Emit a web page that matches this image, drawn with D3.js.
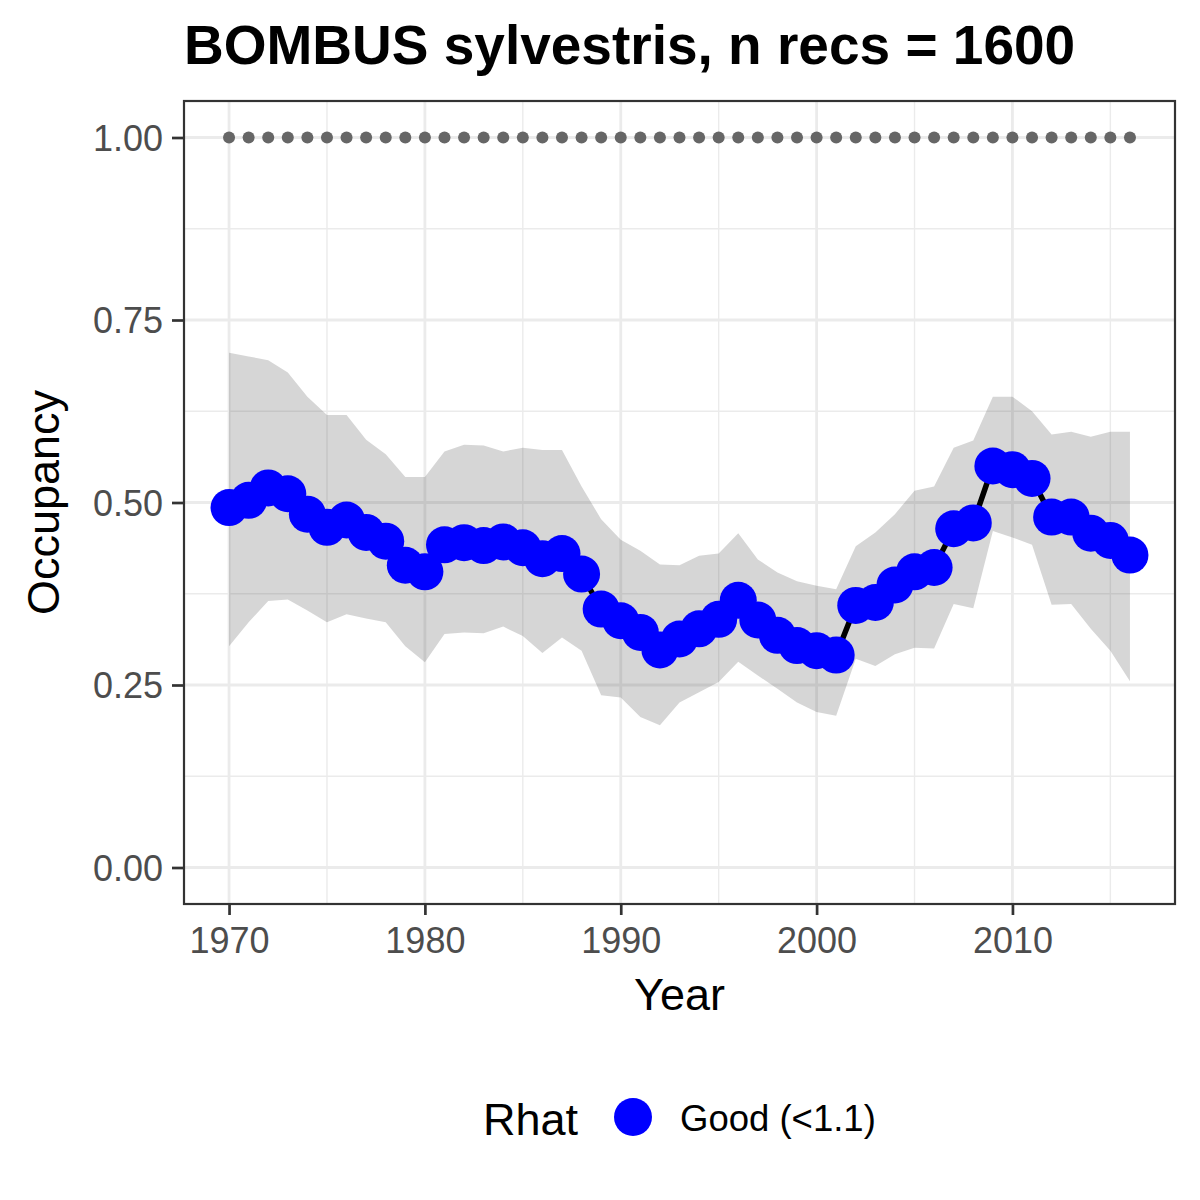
<!DOCTYPE html>
<html>
<head>
<meta charset="utf-8">
<script src="https://cdn.jsdelivr.net/npm/d3@7"></script>
<style>
  html, body { margin: 0; padding: 0; background: #fff; }
  text { font-family: "Liberation Sans", Arial, sans-serif; }
</style>
</head>
<body>
<script>
// occupancy estimates per year
var years = [1970, 1971, 1972, 1973, 1974, 1975, 1976, 1977, 1978, 1979,
             1980, 1981, 1982, 1983, 1984, 1985, 1986, 1987, 1988, 1989,
             1990, 1991, 1992, 1993, 1994, 1995, 1996, 1997, 1998, 1999,
             2000, 2001, 2002, 2003, 2004, 2005, 2006, 2007, 2008, 2009,
             2010, 2011, 2012, 2013, 2014, 2015, 2016];

var occupancy = [0.493, 0.503, 0.520, 0.512, 0.484, 0.466, 0.476, 0.459, 0.447, 0.414,
                 0.405, 0.442, 0.445, 0.441, 0.446, 0.438, 0.423, 0.430, 0.402, 0.354,
                 0.338, 0.322, 0.298, 0.313, 0.327, 0.340, 0.366, 0.339, 0.318, 0.304,
                 0.297, 0.291, 0.359, 0.363, 0.387, 0.405, 0.411, 0.464, 0.472, 0.550,
                 0.545, 0.533, 0.480, 0.480, 0.458, 0.448, 0.428];

var upper95 = [0.705, 0.700, 0.695, 0.678, 0.645, 0.620, 0.620, 0.586, 0.566, 0.535,
               0.535, 0.570, 0.579, 0.578, 0.570, 0.575, 0.572, 0.572, 0.522, 0.477,
               0.449, 0.434, 0.415, 0.414, 0.427, 0.430, 0.458, 0.422, 0.404, 0.392,
               0.386, 0.381, 0.440, 0.459, 0.484, 0.516, 0.522, 0.575, 0.585, 0.645,
               0.645, 0.625, 0.593, 0.597, 0.590, 0.597, 0.597];

var lower95 = [0.303, 0.336, 0.365, 0.367, 0.352, 0.336, 0.347, 0.341, 0.336, 0.303,
               0.281, 0.320, 0.322, 0.321, 0.330, 0.317, 0.294, 0.315, 0.297, 0.236,
               0.233, 0.206, 0.195, 0.226, 0.240, 0.254, 0.282, 0.263, 0.245, 0.226,
               0.213, 0.208, 0.286, 0.276, 0.292, 0.301, 0.300, 0.361, 0.355, 0.461,
               0.452, 0.442, 0.360, 0.361, 0.327, 0.297, 0.255];

// the grey dotted row at the top
var ceilingValue = 1.0;

var xTicks = [1970, 1980, 1990, 2000, 2010];
var xMinor = [1975, 1985, 1995, 2005, 2015];
var yTicks = [0, 0.25, 0.5, 0.75, 1];
var yMinor = [0.125, 0.375, 0.625, 0.875];

var titleText = "BOMBUS sylvestris, n recs = 1600";
var legendTitle = "Rhat";
var legendLabel = "Good (<1.1)";

var rows = years.map((y, i) => ({year: y, mean: occupancy[i], lo: lower95[i], hi: upper95[i]}));

var panel = {left: 184, right: 1175, top: 101, bottom: 904};

// ggplot style 5% expansion
var xPad = (d3.max(years) - d3.min(years)) * 0.05;
var x = d3.scaleLinear()
    .domain([d3.min(years) - xPad, d3.max(years) + xPad])
    .range([panel.left, panel.right]);
var y = d3.scaleLinear()
    .domain([-0.05, 1.05])
    .range([panel.bottom, panel.top]);

var svg = d3.select("body")
    .append("svg")
    .attr("width", 1200)
    .attr("height", 1200);

svg.append("rect")
    .attr("width", 1200).attr("height", 1200)
    .attr("fill", "#fff");

// grid
var grid = svg.append("g");
grid.selectAll("line.xminor").data(xMinor).enter()
    .append("line")
    .attr("x1", d => x(d)).attr("x2", d => x(d))
    .attr("y1", panel.top).attr("y2", panel.bottom)
    .attr("stroke", "#ebebeb").attr("stroke-width", 1.4);
grid.selectAll("line.yminor").data(yMinor).enter()
    .append("line")
    .attr("y1", d => y(d)).attr("y2", d => y(d))
    .attr("x1", panel.left).attr("x2", panel.right)
    .attr("stroke", "#ebebeb").attr("stroke-width", 1.4);
grid.selectAll("line.xmajor").data(xTicks).enter()
    .append("line")
    .attr("x1", d => x(d)).attr("x2", d => x(d))
    .attr("y1", panel.top).attr("y2", panel.bottom)
    .attr("stroke", "#ebebeb").attr("stroke-width", 2.8);
grid.selectAll("line.ymajor").data(yTicks).enter()
    .append("line")
    .attr("y1", d => y(d)).attr("y2", d => y(d))
    .attr("x1", panel.left).attr("x2", panel.right)
    .attr("stroke", "#ebebeb").attr("stroke-width", 2.8);

// credible interval
var area = d3.area()
    .x(d => x(d.year))
    .y0(d => y(d.lo))
    .y1(d => y(d.hi));
svg.append("path")
    .datum(rows)
    .attr("d", area)
    .attr("fill", "#333333")
    .attr("fill-opacity", 0.2);

// dotted row at 1.0
svg.append("g").selectAll("circle").data(years).enter()
    .append("circle")
    .attr("cx", d => x(d))
    .attr("cy", y(ceilingValue))
    .attr("r", 6)
    .attr("fill", "#666666");

// mean line + points
var line = d3.line()
    .x(d => x(d.year))
    .y(d => y(d.mean));
svg.append("path")
    .datum(rows)
    .attr("d", line)
    .attr("fill", "none")
    .attr("stroke", "#000")
    .attr("stroke-width", 5.5);

svg.append("g").selectAll("circle").data(rows).enter()
    .append("circle")
    .attr("cx", d => x(d.year))
    .attr("cy", d => y(d.mean))
    .attr("r", 18.5)
    .attr("fill", "#0000ff");

// panel border
svg.append("rect")
    .attr("x", panel.left).attr("y", panel.top)
    .attr("width", panel.right - panel.left)
    .attr("height", panel.bottom - panel.top)
    .attr("fill", "none")
    .attr("stroke", "#333333")
    .attr("stroke-width", 2.2);

// axes
var xAxis = d3.axisBottom(x).tickValues(xTicks).tickFormat(d3.format("d")).tickSize(11).tickPadding(12);
var yAxis = d3.axisLeft(y).tickValues(yTicks).tickFormat(d3.format(".2f")).tickSize(12).tickPadding(9);

var gx = svg.append("g")
    .attr("transform", "translate(0," + panel.bottom + ")")
    .call(xAxis);
var gy = svg.append("g")
    .attr("transform", "translate(" + panel.left + ",0)")
    .call(yAxis);

[gx, gy].forEach(g => {
    g.select(".domain").remove();
    g.selectAll(".tick line").attr("stroke", "#333333").attr("stroke-width", 2.7);
    g.selectAll(".tick text")
        .attr("fill", "#4d4d4d")
        .attr("font-size", 36)
        .attr("font-family", "Liberation Sans, Arial, sans-serif");
});
gy.selectAll(".tick text").attr("dy", "0.36em");

// axis titles
svg.append("text")
    .attr("x", (panel.left + panel.right) / 2)
    .attr("y", 1010)
    .attr("text-anchor", "middle")
    .attr("font-size", 45)
    .attr("fill", "#000")
    .text("Year");

svg.append("text")
    .attr("transform", "translate(59," + ((panel.top + panel.bottom) / 2) + ") rotate(-90)")
    .attr("text-anchor", "middle")
    .attr("font-size", 45)
    .attr("fill", "#000")
    .text("Occupancy");

// title
svg.append("text")
    .attr("x", panel.left)
    .attr("y", 64)
    .attr("font-size", 55)
    .attr("font-weight", "bold")
    .attr("fill", "#000")
    .text(titleText);

// legend
var legend = svg.append("g");
legend.append("text")
    .attr("x", 483)
    .attr("y", 1135)
    .attr("font-size", 45)
    .attr("fill", "#000")
    .text(legendTitle);
legend.append("circle")
    .attr("cx", 633)
    .attr("cy", 1117)
    .attr("r", 19)
    .attr("fill", "#0000ff");
legend.append("text")
    .attr("x", 680)
    .attr("y", 1131)
    .attr("font-size", 36.5)
    .attr("fill", "#000")
    .text(legendLabel);
</script>
</body>
</html>
